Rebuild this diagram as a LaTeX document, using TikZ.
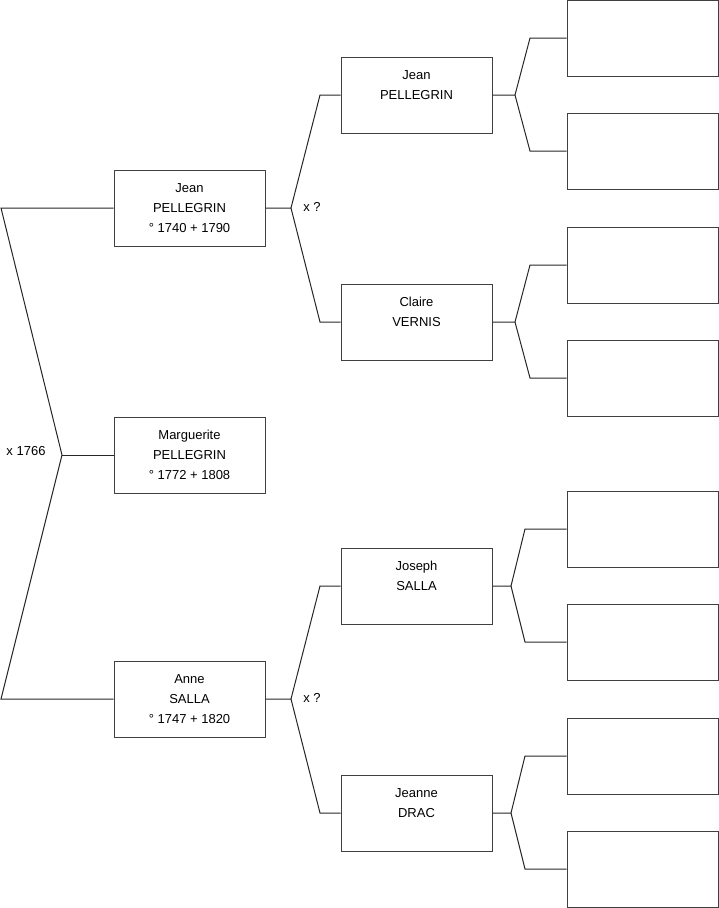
\documentclass[tikz,border=0pt]{standalone}
\usepackage{fontspec}
\setmainfont{Liberation Sans}
\newcommand\boxtext[3]{\raisebox{3pt}{\begin{tabular}{@{}c@{}}#1\\#2\\#3\mbox{}\end{tabular}}}
\begin{document}
\begin{tikzpicture}[x=1pt,y=-1pt,
  person/.style={draw=black!75,line width=1pt,rectangle,minimum width=151pt,minimum height=76pt,
    inner sep=0pt,font=\fontsize{13}{20}\selectfont},
  link/.style={draw=black!85,line width=1pt},
  note/.style={font=\fontsize{13}{15}\selectfont,inner sep=0pt}]
\useasboundingbox (0,0) rectangle (719,908);
% generation 1
\node[person] (jean1) at (189.5,208) {\boxtext{Jean}{PELLEGRIN}{° 1740 + 1790}};
\node[person] (marg) at (189.5,455) {\boxtext{Marguerite}{PELLEGRIN}{° 1772 + 1808}};
\node[person] (anne) at (189.5,699) {\boxtext{Anne}{SALLA}{° 1747 + 1820}};
% generation 2
\node[person] (jean2) at (416.5,95) {\boxtext{Jean}{PELLEGRIN}{}};
\node[person] (claire) at (416.5,322) {\boxtext{Claire}{VERNIS}{}};
\node[person] (joseph) at (416.5,586) {\boxtext{Joseph}{SALLA}{}};
\node[person] (jeanne) at (416.5,813) {\boxtext{Jeanne}{DRAC}{}};
% generation 3
\node[person] (e1) at (642.5,38) {};
\node[person] (e2) at (642.5,151) {};
\node[person] (e3) at (642.5,265) {};
\node[person] (e4) at (642.5,378) {};
\node[person] (e5) at (642.5,529) {};
\node[person] (e6) at (642.5,642) {};
\node[person] (e7) at (642.5,756) {};
\node[person] (e8) at (642.5,869) {};
% junction coordinates
\coordinate (tl) at (1,208);
\coordinate (bl) at (1,699);
\coordinate (m) at (62,455);
\coordinate (j1) at (291,208);
\coordinate (j1a) at (320,95);
\coordinate (j1b) at (320,322);
\coordinate (j2) at (291,699);
\coordinate (j2a) at (320,586);
\coordinate (j2b) at (320,813);
\coordinate (k1) at (515,95);
\coordinate (k1a) at (530,38);
\coordinate (k1b) at (530,151);
\coordinate (k2) at (515,322);
\coordinate (k2a) at (530,265);
\coordinate (k2b) at (530,378);
\coordinate (k3) at (511,586);
\coordinate (k3a) at (525,529);
\coordinate (k3b) at (525,642);
\coordinate (k4) at (511,813);
\coordinate (k4a) at (525,756);
\coordinate (k4b) at (525,869);
% connectors
\draw[link] (jean1.west) -- (tl) -- (m) -- (bl) -- (anne.west);
\draw[link] (m) -- (marg.west);
\draw[link] (jean1.east) -- (j1) -- (j1a) -- (jean2.west);
\draw[link] (j1) -- (j1b) -- (claire.west);
\draw[link] (anne.east) -- (j2) -- (j2a) -- (joseph.west);
\draw[link] (j2) -- (j2b) -- (jeanne.west);
\draw[link] (jean2.east) -- (k1) -- (k1a) -- (e1.west);
\draw[link] (k1) -- (k1b) -- (e2.west);
\draw[link] (claire.east) -- (k2) -- (k2a) -- (e3.west);
\draw[link] (k2) -- (k2b) -- (e4.west);
\draw[link] (joseph.east) -- (k3) -- (k3a) -- (e5.west);
\draw[link] (k3) -- (k3b) -- (e6.west);
\draw[link] (jeanne.east) -- (k4) -- (k4a) -- (e7.west);
\draw[link] (k4) -- (k4b) -- (e8.west);
% labels
\node[note] (n1) at (26,451) {x 1766};
\node[note] (n2) at (312,207) {x ?};
\node[note] (n3) at (312,698) {x ?};
\end{tikzpicture}
\end{document}
